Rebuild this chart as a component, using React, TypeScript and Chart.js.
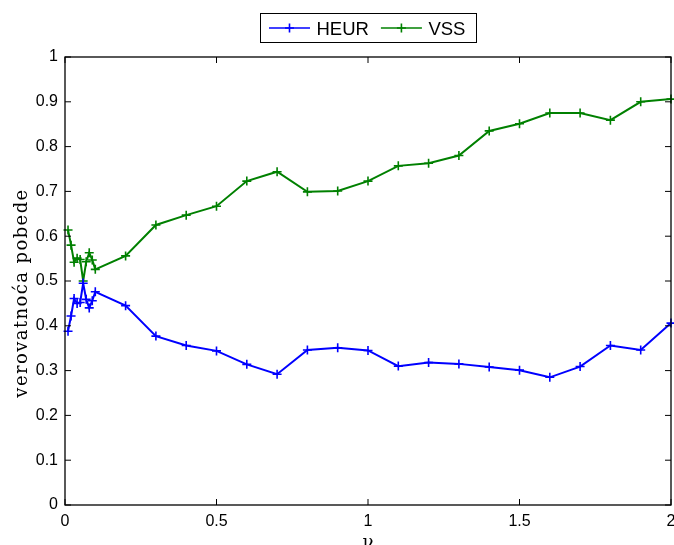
import React, { useEffect, useRef } from "react";
import { Chart, registerables } from "chart.js";

Chart.register(...registerables);

// ν values: fine steps up to 0.1, then steps of 0.1 up to 2
const NU = [
  0.01, 0.02, 0.03, 0.04, 0.05, 0.06, 0.07, 0.08, 0.09, 0.1,
  0.2, 0.3, 0.4, 0.5, 0.6, 0.7, 0.8, 0.9, 1.0, 1.1,
  1.2, 1.3, 1.4, 1.5, 1.6, 1.7, 1.8, 1.9, 2.0,
];

const HEUR = [
  0.388, 0.422, 0.461, 0.45, 0.452, 0.495, 0.459, 0.44, 0.456, 0.476,
  0.445, 0.377, 0.356, 0.344, 0.314, 0.292, 0.346, 0.351, 0.345, 0.31,
  0.318, 0.315, 0.308, 0.301, 0.285, 0.309, 0.356, 0.346, 0.406,
];

const VSS = [
  0.614, 0.58, 0.542, 0.551, 0.548, 0.5, 0.543, 0.563, 0.547, 0.526,
  0.556, 0.625, 0.647, 0.667, 0.723, 0.744, 0.699, 0.701, 0.723, 0.757,
  0.763, 0.78, 0.835, 0.851, 0.875, 0.875, 0.859, 0.9, 0.906,
];

const SERIES_NAMES = ["HEUR", "VSS"];
const SERIES_COLORS = ["rgb(0,0,255)", "rgb(0,128,0)"];
const X_TITLE = "ν";
const Y_TITLE = "verovatnoća pobede";

const SANS = "'Liberation Sans', Arial, Helvetica, sans-serif";
const SERIF = "'DejaVu Serif', serif";

function drawPlus(ctx: CanvasRenderingContext2D, x: number, y: number, r: number) {
  ctx.beginPath();
  ctx.moveTo(x - r, y);
  ctx.lineTo(x + r, y);
  ctx.moveTo(x, y - r);
  ctx.lineTo(x, y + r);
  ctx.stroke();
}

// Box frame with inward ticks on all four sides, axis titles and the boxed legend
const framePlugin = {
  id: "frame",
  afterDraw(chart: any) {
    const ctx: CanvasRenderingContext2D = chart.ctx;
    const { left, right, top, bottom } = chart.chartArea;
    const xs = chart.scales.x;
    const ys = chart.scales.y;
    const tl = 6;
    ctx.save();
    ctx.strokeStyle = "#000";
    ctx.lineWidth = 1.3;
    ctx.strokeRect(left, top, right - left, bottom - top);
    ctx.lineWidth = 1;
    ctx.beginPath();
    xs.ticks.forEach((t: any) => {
      const px = xs.getPixelForValue(t.value);
      ctx.moveTo(px, bottom);
      ctx.lineTo(px, bottom - tl);
      ctx.moveTo(px, top);
      ctx.lineTo(px, top + tl);
    });
    ys.ticks.forEach((t: any) => {
      const py = ys.getPixelForValue(t.value);
      ctx.moveTo(left, py);
      ctx.lineTo(left + tl, py);
      ctx.moveTo(right, py);
      ctx.lineTo(right - tl, py);
    });
    ctx.stroke();

    // axis titles
    ctx.fillStyle = "#000";
    ctx.font = `18px ${SERIF}`;
    ctx.textAlign = "center";
    ctx.textBaseline = "alphabetic";
    ctx.fillText(X_TITLE, (left + right) / 2, 547.5);
    ctx.save();
    ctx.translate(26.5, 293);
    ctx.rotate(-Math.PI / 2);
    (ctx as any).letterSpacing = "1.4px";
    ctx.fillText(Y_TITLE, 0, 0);
    ctx.restore();

    // legend
    const bx = 260, by = 13, bw = 216, bh = 29;
    ctx.fillStyle = "#fff";
    ctx.fillRect(bx, by, bw, bh);
    ctx.strokeStyle = "#000";
    ctx.lineWidth = 1;
    ctx.strokeRect(bx + 0.5, by + 0.5, bw, bh);
    ctx.font = `18.5px ${SANS}`;
    ctx.textAlign = "left";
    ctx.textBaseline = "alphabetic";
    const cy = by + bh / 2 + 0.5;
    let x = bx + 9;
    SERIES_NAMES.forEach((name, i) => {
      ctx.strokeStyle = SERIES_COLORS[i];
      ctx.lineWidth = 1.6;
      ctx.beginPath();
      ctx.moveTo(x, cy);
      ctx.lineTo(x + 41, cy);
      ctx.stroke();
      drawPlus(ctx, x + 20.5, cy, 4.5);
      ctx.fillStyle = "#000";
      ctx.fillText(name, x + 47.5, by + 21.7);
      x += 47.5 + ctx.measureText(name).width + 12;
    });
    ctx.restore();
  },
};

export default function App() {
  const canvasRef = useRef<HTMLCanvasElement | null>(null);

  useEffect(() => {
    if (!canvasRef.current) return;
    const tickFont = { family: SANS, size: 16 };
    const chart = new Chart(canvasRef.current, {
      type: "scatter",
      data: {
        datasets: [HEUR, VSS].map((vals, i) => ({
          label: SERIES_NAMES[i],
          data: NU.map((nu, j) => ({ x: nu, y: vals[j] })),
          showLine: true,
          borderColor: SERIES_COLORS[i],
          backgroundColor: SERIES_COLORS[i],
          borderWidth: 2,
          pointStyle: "cross",
          pointRadius: 4.5,
          pointBorderWidth: 1.6,
          pointHoverRadius: 4.5,
          tension: 0,
          clip: 6,
        })),
      },
      options: {
        responsive: true,
        maintainAspectRatio: false,
        animation: false,
        events: [],
        layout: { autoPadding: false, padding: { top: 57, right: 3, left: 0, bottom: 0 } },
        plugins: {
          legend: { display: false },
          tooltip: { enabled: false },
        },
        scales: {
          x: {
            type: "linear",
            min: 0,
            max: 2,
            grid: { display: false, drawTicks: false },
            border: { display: false },
            ticks: {
              stepSize: 0.5,
              padding: 7,
              color: "#000",
              font: tickFont,
              maxRotation: 0,
              autoSkip: false,
              callback: (v: any) => String(+Number(v).toFixed(2)),
            },
            afterFit: (s: any) => {
              s.height = 40;
              s.paddingLeft = 0;
              s.paddingRight = 0;
            },
          },
          y: {
            type: "linear",
            min: 0,
            max: 1,
            grid: { display: false, drawTicks: false },
            border: { display: false },
            ticks: {
              stepSize: 0.1,
              padding: 7,
              color: "#000",
              font: tickFont,
              autoSkip: false,
              callback: (v: any) => String(+Number(v).toFixed(2)),
            },
            afterFit: (s: any) => {
              s.width = 65;
            },
          },
        },
      },
      plugins: [framePlugin],
    });
    return () => chart.destroy();
  }, []);

  return (
    <div style={{ position: "fixed", left: 0, top: 0, width: 674, height: 545, background: "#fff" }}>
      <canvas ref={canvasRef} />
    </div>
  );
}
